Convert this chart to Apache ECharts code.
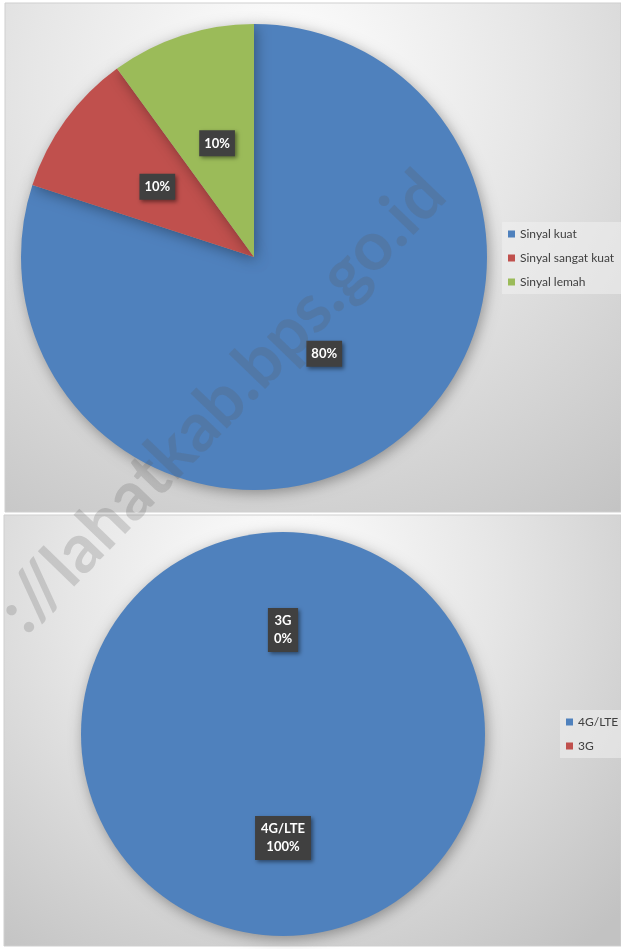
<!DOCTYPE html>
<html>
<head>
<meta charset="utf-8">
<script src="https://cdn.jsdelivr.net/npm/echarts@6/dist/echarts.min.js"></script>
<style>
  html, body { margin: 0; padding: 0; background: #fff; }
  #chart { width: 621px; height: 949px; }
</style>
</head>
<body>
<div id="chart"></div>
<script>
// data
const signalNames = ['Sinyal kuat', 'Sinyal sangat kuat', 'Sinyal lemah']
const signalValues = [80, 10, 10]
const networkNames = ['4G/LTE', '3G']
const networkValues = [100, 0]
const colors = ['#4f81bd', '#c0504d', '#9bbb59']
const watermark = '://lahatkab.bps.go.id'

const font = 'Lato, "Open Sans", sans-serif'

const chart = echarts.init(document.getElementById('chart'))

const panelFill = () => new echarts.graphic.RadialGradient(0.45, 0.15, 1.1, [
  { offset: 0, color: '#ffffff' },
  { offset: 0.45, color: '#e6e6e6' },
  { offset: 1, color: '#c2c2c2' }
])

const labelBox = {
  show: true,
  position: 'inside',
  color: '#fff',
  fontFamily: font,
  fontWeight: 'bold',
  fontSize: 13,
  lineHeight: 18,
  backgroundColor: '#404040',
  padding: [4, 5],
  shadowColor: 'rgba(0,0,0,0.45)',
  shadowBlur: 4,
  shadowOffsetX: 2,
  shadowOffsetY: 2
}

const pieShadow = {
  shadowColor: 'rgba(0,0,0,0.35)',
  shadowBlur: 14,
  shadowOffsetX: 2,
  shadowOffsetY: 3
}

const legendBase = {
  orient: 'vertical',
  icon: 'rect',
  itemWidth: 7,
  itemHeight: 7,
  itemGap: 12,
  backgroundColor: 'rgba(240,240,240,0.55)',
  padding: [6, 8, 6, 6],
  textStyle: { color: '#404040', fontSize: 12, fontFamily: font }
}

chart.setOption({
  animation: false,
  color: colors,
  graphic: [
    {
      type: 'rect', z: -10,
      shape: { x: 5, y: 3, width: 616, height: 509 },
      style: { fill: panelFill(), stroke: '#cfcfcf', lineWidth: 1 }
    },
    {
      type: 'rect', z: -10,
      shape: { x: 4, y: 515, width: 617, height: 431 },
      style: { fill: panelFill(), stroke: '#cfcfcf', lineWidth: 1 }
    },
    {
      // watermark across both panels
      type: 'text', z: 100,
      x: 222, y: 402,
      rotation: 46 * Math.PI / 180,
      style: {
        text: watermark,
        align: 'center',
        verticalAlign: 'middle',
        fontFamily: font,
        fontWeight: 'bold',
        fontSize: 68,
        fill: 'rgba(90,90,90,0.22)'
      }
    }
  ],
  legend: [
    Object.assign({}, legendBase, { left: 502, top: 222, data: signalNames }),
    Object.assign({}, legendBase, { left: 560, top: 710, data: networkNames })
  ],
  series: [
    {
      type: 'pie',
      center: [254, 257],
      radius: 233,
      startAngle: 90,
      clockwise: true,
      itemStyle: pieShadow,
      label: Object.assign({}, labelBox, { formatter: p => p.value + '%' }),
      labelLine: { show: false },
      emphasis: { disabled: true },
      data: signalNames.map((n, i) => ({ name: n, value: signalValues[i] }))
    },
    {
      type: 'pie',
      center: [283, 734],
      radius: 202,
      startAngle: 90,
      clockwise: true,
      itemStyle: pieShadow,
      label: Object.assign({}, labelBox, { padding: [4, 6], formatter: p => p.name + '\n' + p.value + '%' }),
      labelLine: { show: false },
      emphasis: { disabled: true },
      data: networkNames.map((n, i) => ({ name: n, value: networkValues[i] }))
    }
  ]
})

window.addEventListener('resize', () => chart.resize())
</script>
</body>
</html>
